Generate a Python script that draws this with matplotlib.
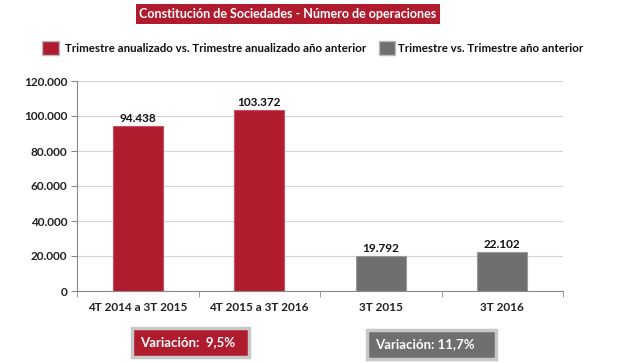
import matplotlib.pyplot as plt
from matplotlib.patches import Rectangle

plt.rcParams['font.family'] = ['Lato', 'DejaVu Sans']

categories = ['4T 2014 a 3T 2015', '4T 2015 a 3T 2016', '3T 2015', '3T 2016']
values = [94438, 103372, 19792, 22102]
value_labels = ['94.438', '103.372', '19.792', '22.102']
yticks = [0, 20000, 40000, 60000, 80000, 100000, 120000]
ytick_labels = ['0', '20.000', '40.000', '60.000', '80.000', '100.000', '120.000']
legend_labels = ['Trimestre anualizado vs. Trimestre anualizado año anterior',
                 'Trimestre vs. Trimestre año anterior']
variations = ['Variación:  9,5%', 'Variación: 11,7%']

red = '#B01C2E'
gray = '#6E6F6E'
colors = [red, red, gray, gray]

fig = plt.figure(figsize=(6.19, 3.62), dpi=100)
ax = fig.add_axes([77 / 619, 1 - 291 / 362, 486 / 619, 210 / 362])

x = range(len(categories))
ax.bar(x, values, width=0.41, color=colors, edgecolor=['#C85060', '#C85060', '#9A9A9A', '#9A9A9A'],
       linewidth=0.8, zorder=3)
for i, v in enumerate(values):
    ax.text(i, v + 1200, value_labels[i], ha='center', va='bottom', fontsize=8.5, fontweight='bold', color='#111111')

ax.set_xlim(-0.5, 3.5)
ax.set_ylim(0, 120000)
ax.set_yticks(yticks)
ax.set_yticklabels(ytick_labels, fontsize=8.5, fontweight='bold', color='#222222')
ax.set_xticks(list(x))
ax.set_xticklabels(categories, fontsize=8.5, fontweight='bold', color='#222222')
ax.tick_params(axis='x', length=0, pad=8)
ax.set_xticks([-0.5, 0.5, 1.5, 2.5, 3.5], minor=True)
ax.tick_params(axis='x', which='minor', length=4, color='#888888')
ax.tick_params(axis='y', length=4, color='#888888', pad=3)
ax.grid(axis='y', color='#D4D4D4', linewidth=0.8, zorder=0)
for s in ['top', 'right']:
    ax.spines[s].set_visible(False)
for s in ['left', 'bottom']:
    ax.spines[s].set_color('#888888')
    ax.spines[s].set_linewidth(0.8)

# title box
fig.patches.append(Rectangle((136 / 619, 1 - 24 / 362), 304 / 619, 20 / 362, transform=fig.transFigure,
                             facecolor=red, edgecolor='none'))
fig.text(288 / 619, 1 - 14 / 362, 'Constitución de Sociedades - Número de operaciones', ha='center', va='center',
         fontsize=9, fontweight='bold', color='white')

# legend
fig.patches.append(Rectangle((42 / 619, 1 - 55 / 362), 17 / 619, 14 / 362, transform=fig.transFigure,
                             facecolor=red, edgecolor='#BBBBBB', linewidth=1))
fig.text(65 / 619, 1 - 48 / 362, legend_labels[0], ha='left', va='center', fontsize=8.3, fontweight='bold',
         color='#111111')
fig.patches.append(Rectangle((379 / 619, 1 - 55 / 362), 16 / 619, 14 / 362, transform=fig.transFigure,
                             facecolor=gray, edgecolor='#BBBBBB', linewidth=1))
fig.text(398 / 619, 1 - 48 / 362, legend_labels[1], ha='left', va='center', fontsize=8.3, fontweight='bold',
         color='#111111')

# variation boxes
fig.patches.append(Rectangle((132 / 619, 1 - 357 / 362), 117 / 619, 29 / 362, transform=fig.transFigure,
                             facecolor=red, edgecolor='#C8C8C8', linewidth=2.5))
fig.text(140 / 619, 1 - 342 / 362, variations[0], ha='left', va='center', fontsize=9.5, fontweight='bold',
         color='white')
fig.patches.append(Rectangle((367 / 619, 1 - 359 / 362), 129 / 619, 29 / 362, transform=fig.transFigure,
                             facecolor=gray, edgecolor='#C8C8C8', linewidth=2.5))
fig.text(375 / 619, 1 - 344 / 362, variations[1], ha='left', va='center', fontsize=9.5, fontweight='bold',
         color='white')

fig.savefig('out.png', dpi=100)
